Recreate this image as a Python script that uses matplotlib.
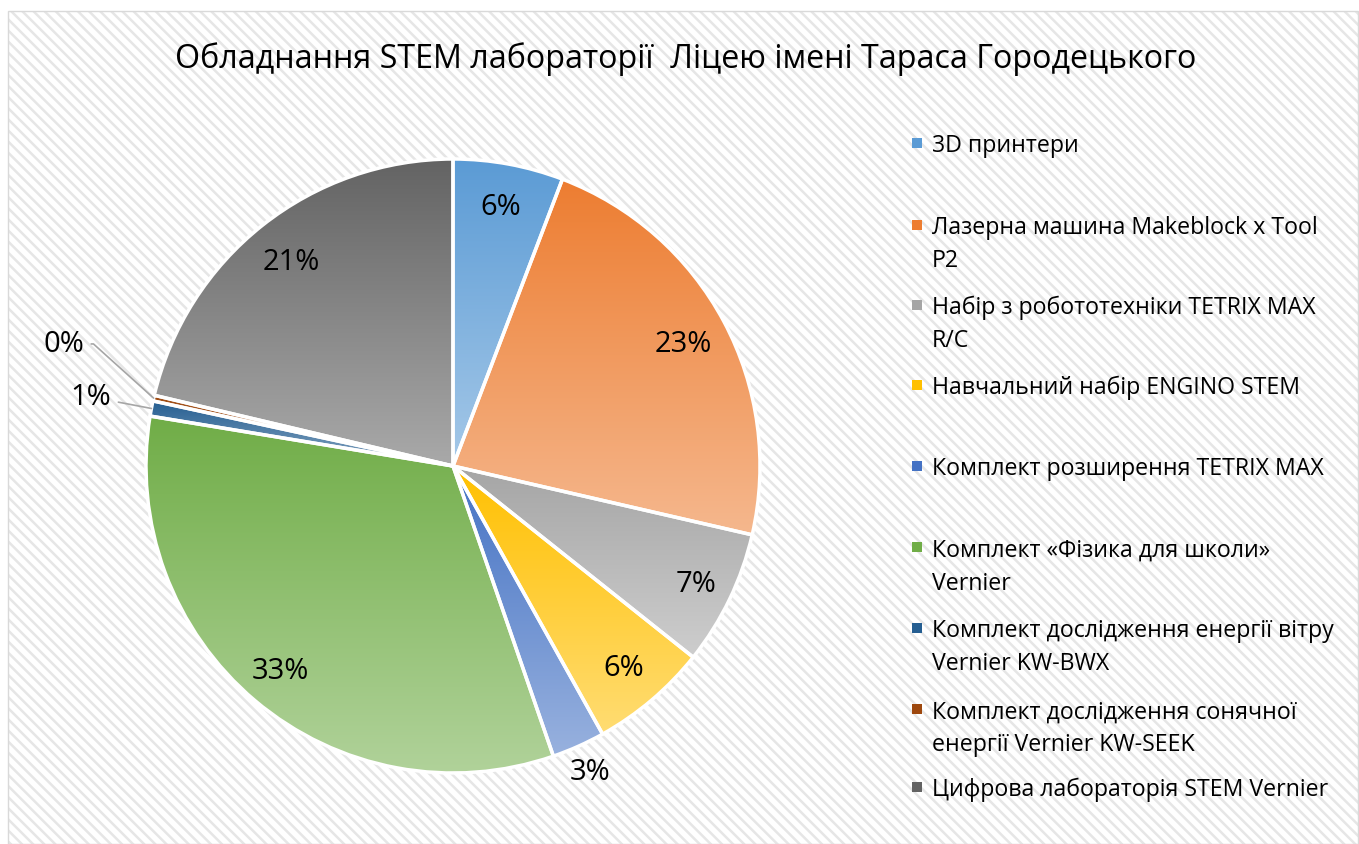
import numpy as np
import matplotlib
matplotlib.use('Agg')
import matplotlib.pyplot as plt
from matplotlib.colors import to_rgb
from matplotlib.patches import Rectangle

plt.rcParams['font.family'] = ['Open Sans', 'DejaVu Sans']
plt.rcParams['hatch.linewidth'] = 1.8

# data
title = 'Обладнання STEM лабораторії  Ліцею імені Тараса Городецького'
categories = [
    '3D принтери',
    'Лазерна машина Makeblock x Tool\nP2',
    'Набір з робототехніки TETRIX MAX\nR/C',
    'Навчальний набір ENGINO STEM',
    'Комплект розширення TETRIX MAX',
    'Комплект «Фізика для школи»\nVernier',
    'Комплект дослідження енергії вітру\nVernier KW-BWX',
    'Комплект дослідження сонячної\nенергії Vernier KW-SEEK',
    'Цифрова лабораторія STEM Vernier',
]
shares = [5.8, 22.8, 7.1, 6.2, 2.8, 32.9, 0.8, 0.3, 21.3]
pct_labels = ['6%', '23%', '7%', '6%', '3%', '33%', '1%', '0%', '21%']
colors = ['#5B9BD5', '#ED7D31', '#A5A5A5', '#FFC000', '#4472C4',
          '#70AD47', '#255E91', '#9E480E', '#636363']

W, H = 1359, 845
fig = plt.figure(figsize=(W / 100, H / 100), dpi=100)

# hatched chart area + border
x0, y0 = 8 / W, 0
bg = Rectangle((x0, y0), 1 - x0 - 1 / W, 1 - 12 / H, transform=fig.transFigure,
               facecolor='white', edgecolor='#e6e6e6', hatch='\\\\\\', lw=0, zorder=-10)
border = Rectangle((x0, y0), 1 - x0 - 1 / W, 1 - 12 / H, transform=fig.transFigure,
                   facecolor='none', edgecolor='#d9d9d9', lw=1, zorder=-9)
fig.patches.extend([bg, border])

fig.text(686 / W, 1 - 68.5 / H, title, ha='center', va='baseline', fontsize=23.2, color='black')

# pie axes: centre (453, 467) px, radius 307 px
cx, cy, r = 453, 467, 307
ax = fig.add_axes([(cx - 1.01 * r) / W, (H - cy - 1.01 * r) / H, 2.02 * r / W, 2.02 * r / H])
wedges, _ = ax.pie(shares, colors=colors, startangle=90, counterclock=False, radius=1,
                   wedgeprops=dict(edgecolor='white', linewidth=2.5))

# vertical gradient in every slice: base colour on top, lighter tint at the bottom
for w, c in zip(wedges, colors):
    base = np.array(to_rgb(c))
    light = base + (1 - base) * 0.45
    t = np.linspace(0, 1, 256)[:, None]
    grad = (light * (1 - t) + base * t)[:, None, :]
    ext = w.get_path().get_extents()
    im = ax.imshow(grad, extent=[ext.x0, ext.x1, ext.y0, ext.y1], origin='lower',
                   aspect='auto', zorder=w.get_zorder() - 0.5, interpolation='bilinear')
    im.set_clip_path(w)
    w.set_facecolor('none')

# percentage labels
total = sum(shares)
cum = np.cumsum(shares)
mids = np.radians((cum - np.array(shares) / 2) / total * 360)
label_r = [0.86, 0.85, 0.88, 0.86, 1.09, 0.87, 1.2, 1.3, 0.85]
for i, (lab, th) in enumerate(zip(pct_labels, mids)):
    lx, ly = label_r[i] * np.sin(th), label_r[i] * np.cos(th)
    if lab in ('1%', '0%'):
        dy = 0.11 if lab == '0%' else 0.0
        conn = 'angle,angleA=0,angleB=-42,rad=0' if lab == '0%' else 'arc3'
        ax.annotate(lab, xy=(np.sin(th), np.cos(th)), xytext=(lx, ly + dy),
                    ha='center', va='center', fontsize=21, color='black',
                    arrowprops=dict(arrowstyle='-', color='#a6a6a6', lw=1.2,
                                    shrinkA=3, shrinkB=0, connectionstyle=conn))
    else:
        ax.text(lx, ly, lab, ha='center', va='center', fontsize=21, color='black')

ax.set_xlim(-1.01, 1.01)
ax.set_ylim(-1.01, 1.01)
ax.set_aspect('equal')
ax.axis('off')

# legend, drawn by hand to keep Excel's spacing
entry_y = [144, 226, 306, 386, 467, 548, 629, 710, 788]
line_step = 33
for c, lab, yy in zip(colors, categories, entry_y):
    fig.patches.append(Rectangle(((917 - 5) / W, 1 - (yy + 5) / H), 10 / W, 10 / H,
                                 transform=fig.transFigure, facecolor=c, lw=0))
    for k, line in enumerate(lab.split('\n')):
        fig.text(932 / W, 1 - (yy + k * line_step + 8.5) / H, line,
                 ha='left', va='baseline', fontsize=16.7, color='black')

fig.savefig('out.png', dpi=100)
